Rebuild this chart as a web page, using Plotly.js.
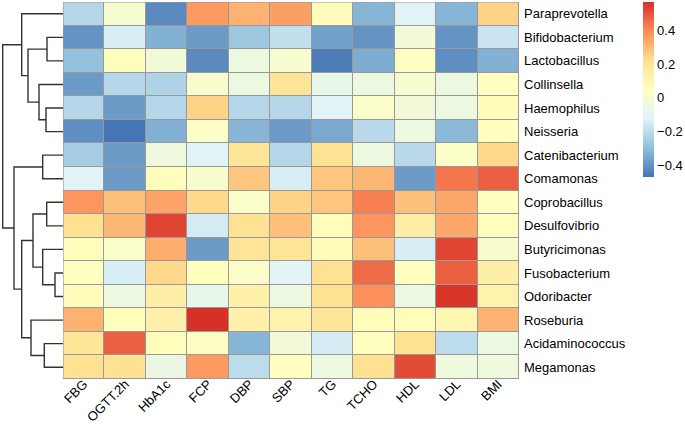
<!DOCTYPE html>
<html>
<head>
<meta charset="utf-8">
<script src="https://cdn.plot.ly/plotly-3.0.1.min.js"></script>
<style>html,body{margin:0;padding:0;background:#fff;}#chart{width:685px;height:427px;}</style>
</head>
<body>
<div id="chart"></div>
<script>
const rowLabels = ["Paraprevotella","Bifidobacterium","Lactobacillus","Collinsella","Haemophilus","Neisseria","Catenibacterium","Comamonas","Coprobacillus","Desulfovibrio","Butyricimonas","Fusobacterium","Odoribacter","Roseburia","Acidaminococcus","Megamonas"];
const colLabels = ["FBG","OGTT.2h","HbA1c","FCP","DBP","SBP","TG","TCHO","HDL","LDL","BMI"];

const rParaprevotella   = [-0.22, 0.00,-0.42, 0.37, 0.32, 0.36, 0.07,-0.32,-0.12,-0.32, 0.25];
const rBifidobacterium  = [-0.40,-0.14,-0.33,-0.38,-0.27,-0.19,-0.37,-0.40,-0.03,-0.40,-0.17];
const rLactobacillus    = [-0.29, 0.06,-0.03,-0.42,-0.05, 0.00,-0.45,-0.34, 0.04,-0.41,-0.33];
const rCollinsella      = [-0.38,-0.22,-0.23, 0.01,-0.05, 0.20,-0.08,-0.05, 0.00,-0.05, 0.05];
const rHaemophilus      = [-0.22,-0.38,-0.22, 0.25,-0.22,-0.22,-0.12, 0.02,-0.03,-0.05, 0.07];
const rNeisseria        = [-0.41,-0.47,-0.33, 0.03,-0.32,-0.38,-0.35,-0.21,-0.05,-0.31, 0.05];
const rCatenibacterium  = [-0.25,-0.38,-0.04,-0.12, 0.19,-0.22, 0.21,-0.05,-0.21, 0.03, 0.24];
const rComamonas        = [-0.12,-0.38, 0.06, 0.01, 0.28,-0.14, 0.28, 0.31,-0.38, 0.44, 0.48];
const rCoprobacillus    = [ 0.38, 0.29, 0.35, 0.24, 0.02, 0.25, 0.28, 0.42, 0.29, 0.34, 0.05];
const rDesulfovibrio    = [ 0.22, 0.31, 0.53,-0.15, 0.21, 0.29, 0.06, 0.38, 0.15, 0.34, 0.06];
const rButyricimonas    = [ 0.06, 0.02, 0.33,-0.38, 0.20, 0.20, 0.07, 0.29,-0.14, 0.53, 0.01];
const rFusobacterium    = [ 0.05,-0.14, 0.24, 0.05, 0.02,-0.11, 0.22, 0.46, 0.05, 0.48, 0.14];
const rOdoribacter      = [ 0.07,-0.05, 0.14,-0.08, 0.13,-0.05, 0.22, 0.39,-0.05, 0.56, 0.12];
const rRoseburia        = [ 0.32, 0.06, 0.13, 0.57, 0.13, 0.12, 0.19, 0.06, 0.06, 0.10, 0.32];
const rAcidaminococcus  = [ 0.19, 0.48, 0.06, 0.04,-0.32,-0.03,-0.15, 0.05, 0.21,-0.20,-0.05];
const rMegamonas        = [ 0.22, 0.22,-0.06, 0.37,-0.20, 0.05,-0.05, 0.22, 0.52,-0.04,-0.04];

// hclust-style merges: negative = leaf (-(row index+1)), positive = earlier merge (1-based); third = height
const rowMerges = [
  [-2,-3,16.0],[-5,-6,17.0],[-4,2,24.0],[1,3,35.0],[-1,4,41.3],
  [-7,-8,20.3],[-9,-10,16.3],[-12,-13,8.0],[-11,8,20.3],[7,9,30.0],
  [-15,-16,18.7],[-14,11,32.0],[10,12,41.3],[6,13,49.0],[5,14,60.3]
];
const colorbarTicks = [-0.4,-0.2,0,0.2,0.4];
const zMin = -0.47, zMax = 0.57;

const z = [rParaprevotella,rBifidobacterium,rLactobacillus,rCollinsella,rHaemophilus,rNeisseria,rCatenibacterium,rComamonas,rCoprobacillus,rDesulfovibrio,rButyricimonas,rFusobacterium,rOdoribacter,rRoseburia,rAcidaminococcus,rMegamonas];

// dendrogram segments
const node = [];
const dx = [], dy = [];
function pos(ref){ return ref < 0 ? {h:0, y:-ref-1} : node[ref-1]; }
rowMerges.forEach(m => {
  const a = pos(m[0]), b = pos(m[1]), H = m[2];
  dx.push(a.h, H, H, b.h, null);
  dy.push(a.y, a.y, b.y, b.y, null);
  node.push({h:H, y:(a.y+b.y)/2});
});

const W = 685, H = 427, mr = 166, plotW = W - mr;
const leftPx = 63;
const font = "'Liberation Sans', Arial, Helvetica, sans-serif";

const traces = [
  {
    type:'heatmap',
    z: z,
    x: colLabels.map((_,i)=>i),
    y: rowLabels.map((_,i)=>i),
    zmin: zMin, zmax: zMax,
    colorscale: [[0,'#4575B4'],[1/6,'#91BFDB'],[2/6,'#E0F3F8'],[3/6,'#FFFFBF'],[4/6,'#FEE090'],[5/6,'#FC8D59'],[1,'#D73027']],
    xgap: 1, ygap: 1,
    hoverinfo: 'skip',
    colorbar: {
      x: 643/plotW, xanchor:'left', xpad:0,
      y: 1, yanchor:'top', ypad:0,
      len: 175, lenmode:'pixels', thickness: 11,
      outlinewidth: 0, ticks:'', tickvals: colorbarTicks,
      ticklabelstandoff: 3,
      tickfont:{size:13, color:'#000', family:font}
    }
  },
  {
    type:'scatter', mode:'lines', x: dx, y: dy, xaxis:'x2', yaxis:'y',
    line:{color:'#333', width:1.4}, hoverinfo:'skip', showlegend:false, connectgaps:false
  }
];

const layout = {
  width: W, height: H,
  margin: {l:0, r:mr, t:2, b:48},
  paper_bgcolor:'#fff', plot_bgcolor:'#fff',
  font:{family:font, size:13, color:'#000'},
  showlegend:false,
  xaxis: {
    domain:[leftPx/plotW, 1], range:[-0.5, colLabels.length-0.5],
    tickvals: colLabels.map((_,i)=>i), ticktext: colLabels,
    tickangle: -45, ticks:'', showgrid:false, zeroline:false, showline:false,
    ticklabelstandoff: -6, automargin:false,
    tickfont:{size:13}, fixedrange:true
  },
  yaxis: {
    range:[rowLabels.length-0.5, -0.5], side:'right', anchor:'x',
    tickvals: rowLabels.map((_,i)=>i), ticktext: rowLabels,
    ticks:'', showgrid:false, zeroline:false, showline:false,
    ticklabelstandoff: 4, tickfont:{size:13}, fixedrange:true
  },
  xaxis2: {
    domain:[0, leftPx/plotW], range:[leftPx, 0], anchor:'y',
    visible:false, showgrid:false, zeroline:false, fixedrange:true
  },
  shapes: [
    {
      type:'rect', xref:'x', yref:'y', layer:'below',
      x0:-0.5, x1:colLabels.length-0.5, y0:-0.5, y1:rowLabels.length-0.5,
      fillcolor:'#999', line:{width:0}
    },
    {
      type:'rect', xref:'x', yref:'y', layer:'above',
      x0:-0.5, x1:colLabels.length-0.5, y0:-0.5, y1:rowLabels.length-0.5,
      line:{color:'#999', width:1.2}
    }
  ]
};

Plotly.newPlot('chart', traces, layout, {displayModeBar:false, staticPlot:true});
</script>
</body>
</html>
